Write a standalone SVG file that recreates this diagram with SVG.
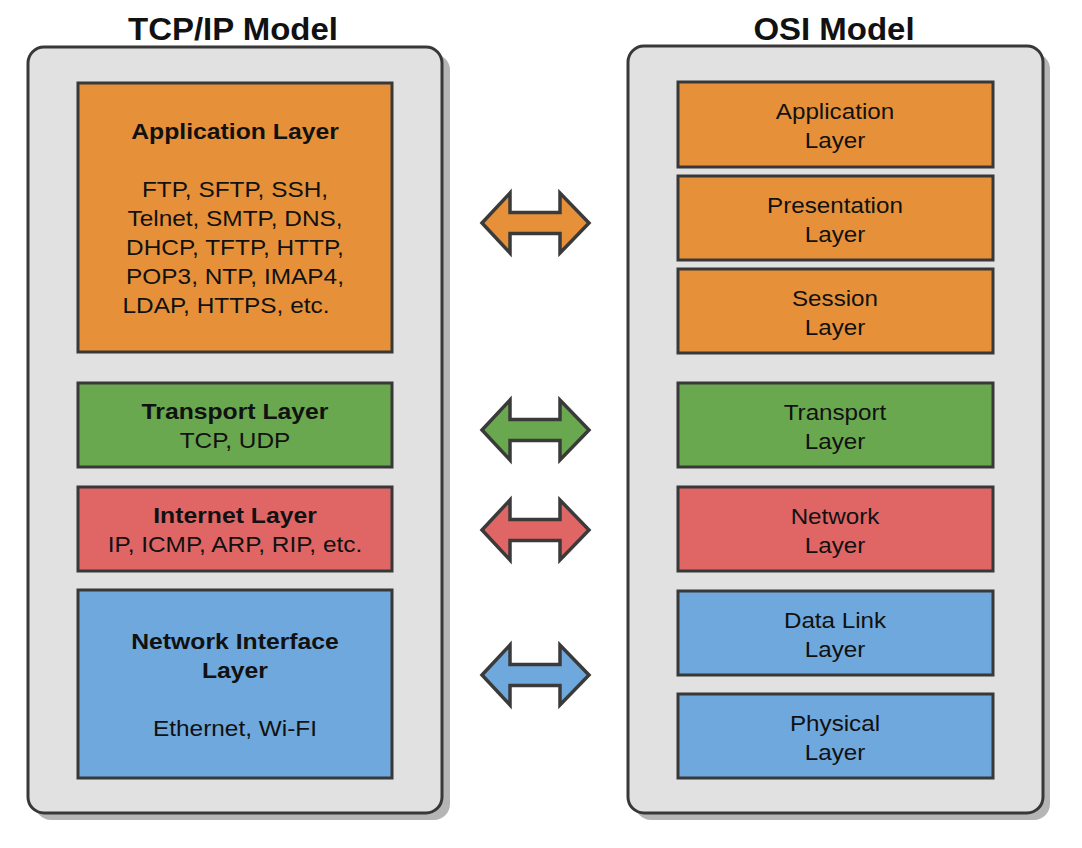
<svg xmlns="http://www.w3.org/2000/svg" width="1082" height="848" viewBox="0 0 1082 848">
<style>
.bg{fill:#ffffff}
.shadow{fill:#b5b5b5}
.cont{fill:#e1e1e1;stroke:#383838;stroke-width:3}
.box{stroke:#383838;stroke-width:3}
.or{fill:#e6913a}
.gr{fill:#6aa84f}
.rd{fill:#e06666}
.bl{fill:#6fa8dc}
.arrow{stroke:#3a3a3a;stroke-width:3.5;stroke-linejoin:miter}
text{font-family:"Liberation Sans",Arial,sans-serif;fill:#111;text-anchor:middle}
.title{font-size:32px;font-weight:bold}
.hb{font-size:22.5px;font-weight:bold}
.pr{font-size:21.7px}
.os{font-size:22px}
</style>
<defs>
<path id="arr" d="M482,0 L510,-30 L510,-10.5 L560,-10.5 L560,-30 L589,0 L560,30 L560,10.5 L510,10.5 L510,30 Z"/>
</defs>
<rect class="bg" x="0" y="0" width="1082" height="848"/>

<g id="tcpip-model">
<text class="title" transform="translate(233 40) scale(1.03 1)">TCP/IP Model</text>
<rect class="shadow" x="35" y="54" width="415" height="766" rx="16"/>
<rect class="cont" x="28" y="47" width="414" height="766" rx="16"/>
</g>

<g id="osi-model">
<text class="title" transform="translate(834 40) scale(1.03 1)">OSI Model</text>
<rect class="shadow" x="635" y="53" width="415" height="767" rx="16"/>
<rect class="cont" x="628" y="46" width="415" height="767" rx="16"/>
</g>

<g id="tcp-application">
<rect class="box or" x="78" y="83" width="314" height="269"/>
<text class="hb" transform="translate(235 139) scale(1.1 1)">Application Layer</text>
<text class="pr" transform="translate(235 197) scale(1.125 1)">FTP, SFTP, SSH,</text>
<text class="pr" transform="translate(235 226) scale(1.125 1)">Telnet, SMTP, DNS,</text>
<text class="pr" transform="translate(235 255) scale(1.125 1)">DHCP, TFTP, HTTP,</text>
<text class="pr" transform="translate(235 284) scale(1.125 1)">POP3, NTP, IMAP4,</text>
<text class="pr" transform="translate(226 313) scale(1.125 1)">LDAP, HTTPS, etc.</text>
</g>

<g id="tcp-transport">
<rect class="box gr" x="78" y="383" width="314" height="84"/>
<text class="hb" transform="translate(235 419) scale(1.1 1)">Transport Layer</text>
<text class="pr" transform="translate(235 448) scale(1.125 1)">TCP, UDP</text>
</g>

<g id="tcp-internet">
<rect class="box rd" x="78" y="487" width="314" height="84"/>
<text class="hb" transform="translate(235 523) scale(1.1 1)">Internet Layer</text>
<text class="pr" transform="translate(235 552) scale(1.125 1)">IP, ICMP, ARP, RIP, etc.</text>
</g>

<g id="tcp-network-interface">
<rect class="box bl" x="78" y="590" width="314" height="188"/>
<text class="hb" transform="translate(235 649) scale(1.1 1)">Network Interface</text>
<text class="hb" transform="translate(235 678) scale(1.1 1)">Layer</text>
<text class="pr" transform="translate(235 736) scale(1.125 1)">Ethernet, Wi-FI</text>
</g>

<g id="osi-application">
<rect class="box or" x="678" y="82" width="315" height="85"/>
<text class="os" transform="translate(835 119) scale(1.1 1)">Application</text>
<text class="os" transform="translate(835 148) scale(1.1 1)">Layer</text>
</g>
<g id="osi-presentation">
<rect class="box or" x="678" y="176" width="315" height="84"/>
<text class="os" transform="translate(835 213) scale(1.1 1)">Presentation</text>
<text class="os" transform="translate(835 242) scale(1.1 1)">Layer</text>
</g>
<g id="osi-session">
<rect class="box or" x="678" y="269" width="315" height="84"/>
<text class="os" transform="translate(835 306) scale(1.1 1)">Session</text>
<text class="os" transform="translate(835 335) scale(1.1 1)">Layer</text>
</g>
<g id="osi-transport">
<rect class="box gr" x="678" y="383" width="315" height="84"/>
<text class="os" transform="translate(835 420) scale(1.1 1)">Transport</text>
<text class="os" transform="translate(835 449) scale(1.1 1)">Layer</text>
</g>
<g id="osi-network">
<rect class="box rd" x="678" y="487" width="315" height="84"/>
<text class="os" transform="translate(835 524) scale(1.1 1)">Network</text>
<text class="os" transform="translate(835 553) scale(1.1 1)">Layer</text>
</g>
<g id="osi-datalink">
<rect class="box bl" x="678" y="591" width="315" height="84"/>
<text class="os" transform="translate(835 628) scale(1.1 1)">Data Link</text>
<text class="os" transform="translate(835 657) scale(1.1 1)">Layer</text>
</g>
<g id="osi-physical">
<rect class="box bl" x="678" y="694" width="315" height="84"/>
<text class="os" transform="translate(835 731) scale(1.1 1)">Physical</text>
<text class="os" transform="translate(835 760) scale(1.1 1)">Layer</text>
</g>

<g id="connectors">
<use href="#arr" class="arrow or" transform="translate(0 223)"/>
<use href="#arr" class="arrow gr" transform="translate(0 430)"/>
<use href="#arr" class="arrow rd" transform="translate(0 530)"/>
<use href="#arr" class="arrow bl" transform="translate(0 675)"/>
</g>
</svg>
